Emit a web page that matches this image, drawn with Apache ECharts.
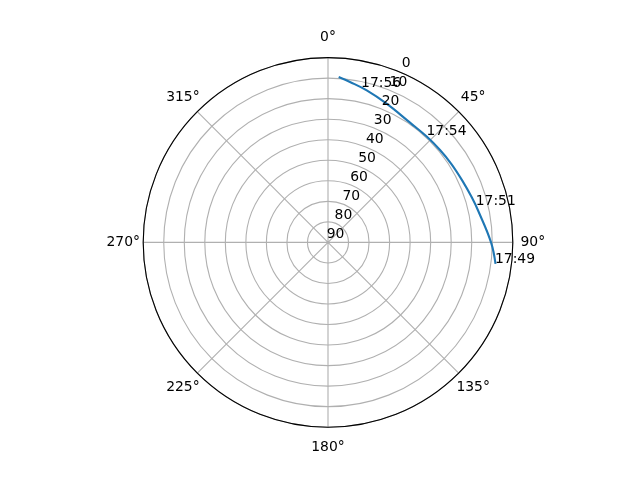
<!DOCTYPE html>
<html><head><meta charset="utf-8">
<script src="https://cdn.jsdelivr.net/npm/echarts@6/dist/echarts.min.js"></script>
<style>html,body{margin:0;padding:0;background:#fff}#c{width:640px;height:480px}</style>
</head><body><div id="c"></div>
<script>
// Satellite track: azimuth (deg, clockwise from N) and elevation (deg)
const trackAz = [3.7, 7.8, 14.3, 22.9, 34.4, 43.0, 50.5, 57.6, 65.3, 72.7, 78.3, 90.0, 97.3];
const trackEl = [9.3, 11.15, 13.6, 16.65, 19.3, 19.5, 19.3, 18.8, 18.0, 16.6, 15.2, 10.6, 7.75];
// Time annotations
const timeLabels = ['17:49', '17:51', '17:54', '17:56'];
const timeAz = [97.3, 76.0, 42.8, 12.3];
const timeEl = [7.75, 15.6, 19.05, 13.2];
// Tick labels
const angleTicks = [0, 45, 90, 135, 180, 225, 270, 315];
const angleLabels = ['0°', '45°', '90°', '135°', '180°', '225°', '270°', '315°'];
const radiusTicks = [0, 10, 20, 30, 40, 50, 60, 70, 80, 90];
const radiusLabels = ['0', '10', '20', '30', '40', '50', '60', '70', '80', '90'];

const R = 184.8, CX = 328, CY = 242.4;
const FONT = 'DejaVu Sans';
const chart = echarts.init(document.getElementById('c'), null, {renderer: 'canvas'});
chart.setOption({
  animation: false,
  backgroundColor: '#fff',
  polar: [
    {center: [CX, CY], radius: R},
    {center: [CX, CY], radius: [10.3, R + 10.3]}
  ],
  angleAxis: [
    {
      polarIndex: 0, type: 'value', min: 0, max: 360, interval: 45,
      startAngle: 90, clockwise: true,
      axisLine: {show: true, lineStyle: {color: '#000', width: 1.1}},
      axisTick: {show: false},
      splitLine: {show: true, lineStyle: {color: '#b0b0b0', width: 1.1}},
      axisLabel: {
        margin: 19,
        formatter: v => { const i = angleTicks.indexOf(v); return i < 0 ? '' : '{a|' + angleLabels[i] + '}'; },
        rich: {a: {width: 2, height: 2, lineHeight: 2, align: 'center', verticalAlign: 'middle',
                   fontSize: 13.9, fontFamily: FONT, color: '#000'}}
      }
    },
    {polarIndex: 1, type: 'value', min: 0, max: 360, startAngle: 67.5, clockwise: true, show: false}
  ],
  radiusAxis: [
    {
      polarIndex: 0, type: 'value', min: 0, max: 90, interval: 10, inverse: true,
      axisLine: {show: false}, axisTick: {show: false}, axisLabel: {show: false},
      splitLine: {show: true, lineStyle: {color: '#b0b0b0', width: 1.1}}
    },
    {
      polarIndex: 1, type: 'value', min: 0, max: 90, interval: 10, inverse: true, z: 5,
      axisLine: {show: false}, axisTick: {show: false}, splitLine: {show: false},
      axisLabel: {
        margin: -3.9, align: 'center', verticalAlign: 'middle',
        fontSize: 13.9, fontFamily: FONT, color: '#000',
        formatter: v => { const i = radiusTicks.indexOf(v); return i < 0 ? '' : radiusLabels[i]; }
      }
    }
  ],
  series: [
    {
      type: 'line', coordinateSystem: 'polar', polarIndex: 0,
      data: trackAz.map((a, i) => [trackEl[i], a]),
      symbol: 'none', smooth: 0.4, z: 3,
      lineStyle: {color: '#1f77b4', width: 2.1}
    },
    {
      type: 'scatter', coordinateSystem: 'polar', polarIndex: 0,
      data: timeAz.map((a, i) => ({value: [timeEl[i], a], name: timeLabels[i]})),
      symbolSize: 1, itemStyle: {color: 'rgba(0,0,0,0)', opacity: 1}, z: 4,
      label: {show: true, formatter: p => p.name, position: [0, 0], align: 'left', verticalAlign: 'bottom',
              offset: [0, 3], fontSize: 13.9, fontFamily: FONT, color: '#000', opacity: 1}
    }
  ]
});
</script></body></html>
